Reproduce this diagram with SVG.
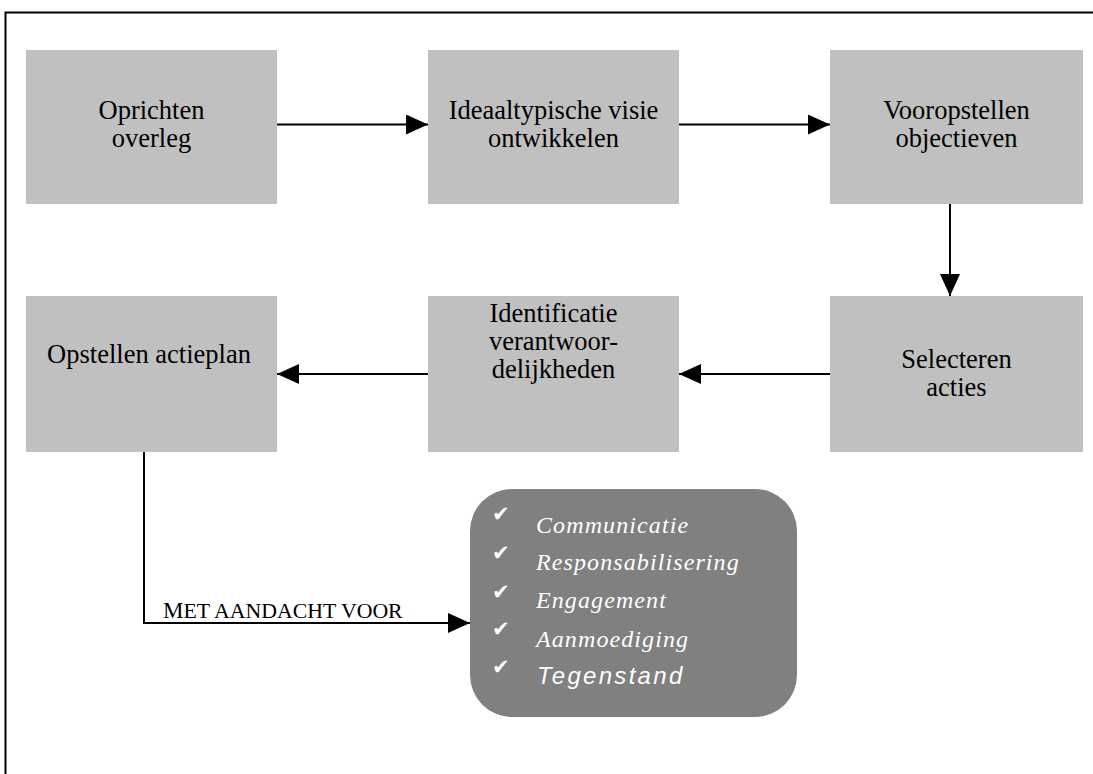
<svg xmlns="http://www.w3.org/2000/svg" width="1093" height="774" viewBox="0 0 1093 774">
<style>
.box{fill:#c0c0c0}
.lbl{font-family:"Liberation Serif","Times New Roman",serif;font-size:26.5px;fill:#000;text-anchor:middle}
.conn{stroke:#000;stroke-width:2;fill:none}
.item{font-family:"Liberation Serif","Times New Roman",serif;font-style:italic;font-size:24px;fill:#fff;letter-spacing:1.1px}
.chk{font-family:"DejaVu Sans",sans-serif;font-size:21px;font-weight:bold;fill:#fff}
</style>
<defs>
<marker id="ah" markerWidth="22" markerHeight="20" refX="22" refY="10" orient="auto" markerUnits="userSpaceOnUse">
<path d="M0,0 L22,10 L0,20 Z" fill="#000"/>
</marker>
</defs>
<rect x="5.5" y="12.5" width="1120" height="800" fill="#fff" stroke="#000" stroke-width="2"/>
<g id="n1"><rect class="box" x="26" y="50" width="251" height="154"/><text class="lbl" x="151.5" y="119">Oprichten</text><text class="lbl" x="151.5" y="147">overleg</text></g>
<g id="n2"><rect class="box" x="428" y="50" width="251" height="154"/><text class="lbl" x="553.5" y="119">Ideaaltypische visie</text><text class="lbl" x="553.5" y="147">ontwikkelen</text></g>
<g id="n3"><rect class="box" x="830" y="50" width="253" height="154"/><text class="lbl" x="956.5" y="119">Vooropstellen</text><text class="lbl" x="956.5" y="147">objectieven</text></g>
<g id="n4"><rect class="box" x="830" y="296" width="253" height="156"/><text class="lbl" x="956.5" y="368">Selecteren</text><text class="lbl" x="956.5" y="396">acties</text></g>
<g id="n5"><rect class="box" x="428" y="296" width="251" height="156"/><text class="lbl" x="553.5" y="322">Identificatie</text><text class="lbl" x="553.5" y="350">verantwoor-</text><text class="lbl" x="553.5" y="378">delijkheden</text></g>
<g id="n6"><rect class="box" x="26" y="296" width="251" height="156"/><text class="lbl" x="149" y="363">Opstellen actieplan</text></g>
<g id="n7"><rect x="470" y="489" width="327" height="228" rx="42" ry="42" fill="#808080"/>
<text class="chk" x="492" y="521">✔</text><text class="item" x="536" y="533">Communicatie</text>
<text class="chk" x="492" y="560">✔</text><text class="item" x="536" y="570">Responsabilisering</text>
<text class="chk" x="492" y="599">✔</text><text class="item" x="536" y="608">Engagement</text>
<text class="chk" x="492" y="636">✔</text><text class="item" x="536" y="647">Aanmoediging</text>
<text class="chk" x="492" y="674">✔</text><text x="537" y="684" style="font-family:'Liberation Sans',Arial,sans-serif;font-style:italic;font-size:24px;fill:#fff;letter-spacing:2.3px">Tegenstand</text>
</g>
<g id="connectors">
<line class="conn" x1="277" y1="124.5" x2="428" y2="124.5" marker-end="url(#ah)"/>
<line class="conn" x1="679" y1="124.5" x2="830" y2="124.5" marker-end="url(#ah)"/>
<line class="conn" x1="950" y1="204" x2="950" y2="296" marker-end="url(#ah)"/>
<line class="conn" x1="830" y1="374" x2="679" y2="374" marker-end="url(#ah)"/>
<line class="conn" x1="428" y1="374" x2="277" y2="374" marker-end="url(#ah)"/>
<polyline class="conn" points="144,452 144,623 470,623" marker-end="url(#ah)"/>
<text x="163" y="618" style="font-family:'Liberation Serif','Times New Roman',serif;font-size:23px;fill:#000">M<tspan font-size="21.8px">ET AANDACHT VOOR</tspan></text>
</g>
</svg>
